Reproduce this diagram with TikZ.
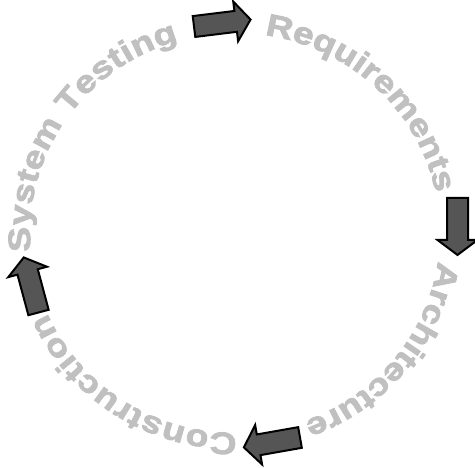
\documentclass[tikz,border=0pt]{standalone}
\usepackage{fontspec}
\usetikzlibrary{decorations.text,calc}
\newfontfamily\wafont[FakeStretch=1.2,FakeBold=2.5]{Liberation Sans Bold}
\definecolor{wagray}{HTML}{C0C0C0}
\definecolor{arrowgray}{HTML}{555555}
\tikzset{
  blockarrow/.style={draw=black, fill=arrowgray, line width=2pt, line join=miter},
  circletext/.style={decorate, decoration={text along path, text align={fit to path}, text color=wagray}}
}
\newcommand{\wordart}{\wafont\fontsize{31pt}{32pt}\selectfont}
\begin{document}
\begin{tikzpicture}[x=1pt,y=1pt]
\useasboundingbox (0,0) rectangle (475,-468);
\coordinate (c) at (235,-233);
% texts along the circle
\path[circletext, decoration={text={|\wordart|System Testing}}]
  ($(c)+(185.3:205pt and 200pt)$) arc[start angle=185.3, end angle=106, x radius=205pt, y radius=200pt];
\path[circletext, decoration={text={|\wordart|Requirements}}]
  ($(c)+(81.7:205pt and 200pt)$) arc[start angle=81.7, end angle=12.8, x radius=205pt, y radius=200pt];
\path[circletext, decoration={text={|\wordart|Architecture}}]
  ($(c)+(-8.1:205pt and 200pt)$) arc[start angle=-8.1, end angle=-69.2, x radius=205pt, y radius=200pt];
\path[circletext, decoration={text={|\wordart|Construction}}]
  ($(c)+(-89.4:205pt and 200pt)$) arc[start angle=-89.4, end angle=-156.4, x radius=205pt, y radius=200pt];
% block arrows
\coordinate (a1) at (194,-26.5);
\coordinate (a2) at (457.5,-198);
\coordinate (a3) at (300,-437.5);
\coordinate (a4) at (38.5,-312.5);
\foreach \p/\r in {a1/7, a2/-90, a3/190, a4/105}{
  \draw[blockarrow, shift={(\p)}, rotate=\r]
    (0,-10.5) -- (42,-10.5) -- (42,-20) -- (57,0) -- (42,20) -- (42,10.5) -- (0,10.5) -- cycle;
}
\end{tikzpicture}
\end{document}
